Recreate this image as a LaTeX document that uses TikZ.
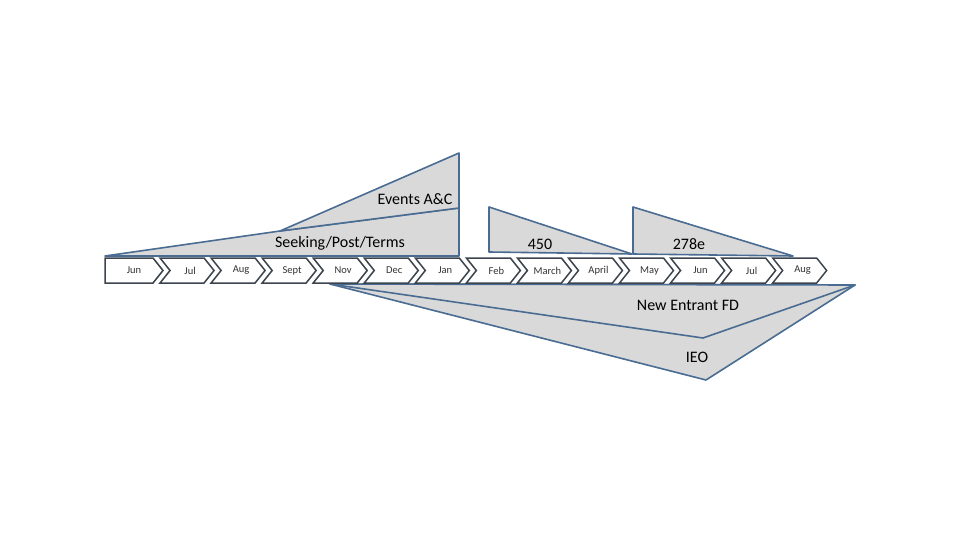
\documentclass[tikz,border=0pt]{standalone}
\usepackage{fontspec}
\setmainfont{Carlito}
\definecolor{zedge}{RGB}{74,108,146}
\definecolor{cedge}{RGB}{60,68,78}
\definecolor{zfill}{RGB}{217,217,217}
\begin{document}
\begin{tikzpicture}[x=1pt,y=-1pt,
  zone/.style={fill=zfill,draw=zedge,line width=1.6pt,line join=round},
  chev/.style={fill=white,draw=cedge,line width=1.5pt,line join=miter},
  mon/.style={font=\fontsize{10.5}{12}\selectfont,text=black!80},
  lab/.style={font=\fontsize{16}{18}\selectfont}]
\useasboundingbox (0,0) rectangle (960,540);
% upper zones
\draw[zone] (105,256) -- (280,231) -- (459,208) -- (459,256) -- cycle;
\draw[zone] (280,231) -- (459,153) -- (459,208) -- cycle;
\draw[zone] (489,207) -- (489,252) -- (632,254) -- cycle;
\draw[zone] (633,207) -- (633,254) -- (793,256) -- cycle;
\node[lab] (ev) at (415,199) {Events A\&C};
\node[lab] (sk) at (340,243) {Seeking/Post/Terms};
\node[lab] (n450) at (540,244) {450};
\node[lab] (n278) at (689,244) {278e};
% lower zones
\draw[zone] (330,284) -- (855,285) -- (706,380) -- cycle;
\draw[zone] (330,284) -- (855,285) -- (703,338) -- cycle;
\node[lab] (ne) at (688,305) {New Entrant FD};
\node[lab] (ieo) at (697,357) {IEO};
% month chevrons
\foreach \m [count=\i from 0] in {Jun,Jul,Aug,Sept,Nov,Dec,Jan,Feb,March,April,May,Jun,Jul,Aug}{
  \pgfmathsetmacro{\T}{163+51.05*\i}
  \pgfmathsetmacro{\L}{\T-54}
  \ifnum\i=0
    \draw[chev] (105,258) -- (\T-10,258) -- (\T,270.5) -- (\T-10,283) -- (105,283) -- cycle;
    \node[mon] (m\i) at (134,270.5) {\m};
  \else
    \draw[chev] (\L,258) -- (\T-10,258) -- (\T,270.5) -- (\T-10,283) -- (\L,283) -- (\L+10,270.5) -- cycle;
    \node[mon] (m\i) at (\T-24,270.5) {\m};
  \fi
}
\end{tikzpicture}
\end{document}
